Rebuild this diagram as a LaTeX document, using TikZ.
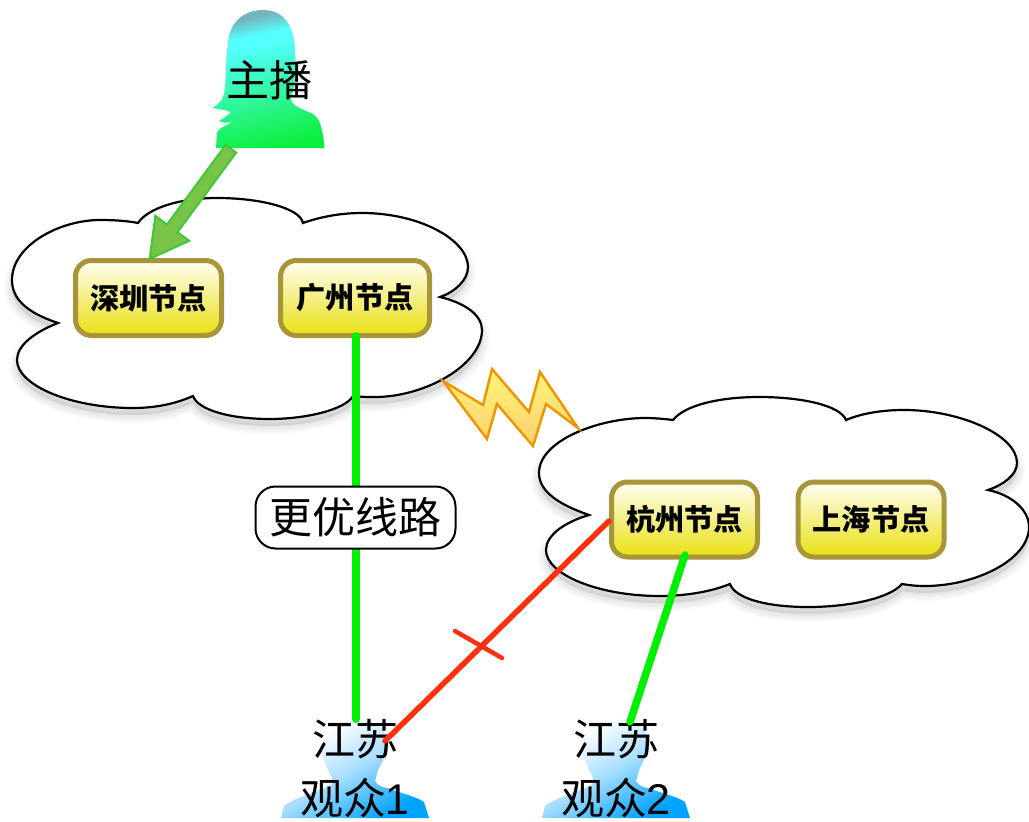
\documentclass[tikz,border=0pt]{standalone}
\usepackage{fontspec}
\newfontfamily\cjk{Noto Sans CJK SC}
\newfontfamily\lat{Liberation Sans}
\usetikzlibrary{arrows.meta,calc}
\definecolor{anchorbot}{HTML}{0CEE3C}
\definecolor{anchorcyan}{HTML}{55FFFF}
\definecolor{anchortop}{HTML}{74B4BC}
\definecolor{nodeborder}{HTML}{A8953A}
\definecolor{nodetop}{HTML}{FFFEF4}
\definecolor{nodebot}{HTML}{E9E010}
\definecolor{arrowfill}{HTML}{78C448}
\definecolor{arrowline}{HTML}{3CC838}
\definecolor{linegreen}{HTML}{00F000}
\definecolor{linered}{HTML}{FF3010}
\definecolor{boltline}{HTML}{F09400}
\definecolor{bolttop}{HTML}{FFF478}
\definecolor{boltbot}{HTML}{FFD070}
\definecolor{viewerblue}{HTML}{00A4FF}
\definecolor{viewermid}{HTML}{A8DEFF}
\pgfdeclareverticalshading{anchorgrad}{100bp}{color(0bp)=(anchorbot); color(24bp)=(anchorbot); color(64bp)=(anchorcyan); color(67bp)=(anchorcyan); color(74bp)=(anchortop); color(100bp)=(anchortop)}
\pgfdeclareverticalshading{viewergrad}{100bp}{color(0bp)=(viewerblue); color(26bp)=(viewerblue); color(50bp)=(viewermid); color(70bp)=(white); color(100bp)=(white)}
\newcommand{\cloudone}{(58,323) .. controls (25,312) and (12,298) .. (12,280)
 .. controls (12,245) and (60,220) .. (100,220) .. controls (115,220) and (128,221) .. (138,223)
 .. controls (148,208) and (180,198) .. (217,198) .. controls (260,198) and (300,208) .. (303,223)
 .. controls (320,217) and (340,213) .. (362,213) .. controls (420,213) and (468,240) .. (468,267)
 .. controls (468,280) and (455,292) .. (440,297) .. controls (465,303) and (482,315) .. (482,330)
 .. controls (482,365) and (425,397) .. (375,397) .. controls (368,397) and (362,397) .. (353,396)
 .. controls (345,410) and (305,419) .. (270,419) .. controls (230,419) and (198,410) .. (193,396)
 .. controls (175,404) and (155,408) .. (133,408) .. controls (70,408) and (17,385) .. (17,360)
 .. controls (17,345) and (35,332) .. (58,323) -- cycle}
\newcommand{\cloudtwo}{(589,515) .. controls (560,505) and (539,492) .. (539,473)
 .. controls (539,440) and (600,418) .. (645,418) .. controls (655,418) and (665,419) .. (673,420)
 .. controls (685,405) and (720,397) .. (759,397) .. controls (800,397) and (840,405) .. (846,420)
 .. controls (860,414) and (880,410) .. (904,410) .. controls (960,410) and (1017,435) .. (1017,463)
 .. controls (1017,475) and (1003,485) .. (988,490) .. controls (1012,495) and (1029,510) .. (1029,527)
 .. controls (1029,560) and (975,586) .. (925,586) .. controls (915,586) and (908,585) .. (902,584)
 .. controls (890,598) and (850,607) .. (808,607) .. controls (765,607) and (735,598) .. (730,584)
 .. controls (710,592) and (685,596) .. (659,596) .. controls (600,596) and (546,575) .. (546,550)
 .. controls (546,535) and (565,522) .. (589,515) -- cycle}
\newcommand{\viewerpath}{(281,818) -- (284,806) .. controls (290,800) and (315,792) .. (327,787)
 .. controls (332,785) and (333,782) .. (332,778) -- (328,770) -- (324,760) .. controls (316,745) and (316,719) .. (352,719)
 .. controls (392,719) and (390,745) .. (383,760) -- (378,770) -- (375,781) .. controls (378,786) and (382,787) .. (387,788)
 .. controls (400,793) and (415,796) .. (424,802) -- (429,818) -- cycle}
\tikzset{
 x=1pt,y=-1pt,
 cityphrase/.style={font=\cjk\bfseries\fontsize{29.2}{30}\selectfont},
 citybox/.style={draw=nodeborder,line width=5pt,rounded corners=16pt,minimum width=146pt,minimum height=75pt,inner sep=0pt,outer sep=0pt,top color=nodetop,bottom color=nodebot,cityphrase},
 bigtext/.style={font=\cjk\fontsize{43}{46}\selectfont,inner sep=0pt,text=black},
 cloudshape/.style={draw=black,line width=2.2pt,fill=white},
 cloudshadow/.style={draw=black,opacity=0.025,fill=black,yshift=-7pt},
 greenlink/.style={draw=linegreen,line width=7.8pt,line cap=round},
 redlink/.style={draw=linered,line width=5.5pt,line cap=round},
 viewer/.style={shading=viewergrad,shading angle=30},
 boltshape/.style={draw=boltline,line width=2.4pt,line join=miter,top color=bolttop,bottom color=boltbot},
}
\begin{document}
\begin{tikzpicture}
\useasboundingbox (0,0) rectangle (1029,822);
% shadows and clouds
\foreach \w in {16,12,8,4}{
 \path[cloudshadow,line width=\w pt] \cloudone;
 \path[cloudshadow,line width=\w pt] \cloudtwo;
}
\path[cloudshape] \cloudone;
\path[cloudshape] \cloudtwo;
% bolt
\path[boltshape] (443,381) -- (483,405) -- (492,369) -- (529,412) -- (540,372) -- (578,428) -- (546,404) -- (533,446) -- (497,404) -- (487,439) -- cycle;
% anchor silhouette
\path[shading=anchorgrad,shading angle=12] (216,148) -- (217,133) .. controls (218,128) and (226,126) .. (232,122)
 .. controls (226,123) and (222,123) .. (219,121) .. controls (224,118) and (228,115) .. (231,112)
 .. controls (226,110) and (218,109) .. (212,108) .. controls (220,104) and (224,98) .. (225,88)
 .. controls (226,75) and (226,55) .. (228,42) .. controls (230,20) and (246,10) .. (263,10)
 .. controls (284,10) and (294,26) .. (295,50) .. controls (296,65) and (296,85) .. (291,98)
 .. controls (291,106) and (300,108) .. (313,114) .. controls (320,118) and (323,130) .. (324.5,148) -- cycle;
% viewers
\path[viewer] \viewerpath;
\begin{scope}[xshift=261pt]
\path[viewer] \viewerpath;
\end{scope}
% city nodes
\node[citybox] (sz) at (148.5,298) {深圳节点};
\node[citybox,minimum width=149pt] (gz) at (355,298) {广州节点};
\node[citybox] (hz) at (684.5,519.5) {杭州节点};
\node[citybox] (sh) at (871,519.5) {上海节点};
% texts
\node[bigtext] (zb) at (269.5,80) {主播};
\node[bigtext] (v1a) at (355,739.5) {江苏};
\node[bigtext] (v1b) at (354.5,798.5) {观众\kern-1pt{\lat 1}};
\node[bigtext] (v2a) at (616,739.5) {江苏};
\node[bigtext] (v2b) at (615.5,798.5) {观众\kern-1pt{\lat 2}};
\coordinate (ztail) at (231.5,148);
\coordinate (v1top) at (356,719);
\coordinate (v1red) at (385,741);
\coordinate (v2top) at (630,722);
\coordinate (hzred) at (609,521);
\coordinate (hzgreen) at (685,555);
\coordinate (gzout) at (356,336);
\coordinate (tickA) at (455,631);
\coordinate (tickB) at (502,658);
% connectors
\draw[draw=arrowline,line width=15pt,-{Triangle[length=41pt,width=45pt,line width=2pt,fill=arrowfill]}] (ztail) -- (sz.north);
\draw[draw=arrowfill,line width=11pt] ($(ztail)!2pt!(sz.north)$) -- ($(sz.north)!37pt!(ztail)$);
\draw[greenlink] (gzout) -- (v1top);
\draw[greenlink,line width=7.5pt] (hzgreen) -- (v2top);
\draw[redlink] (hzred) -- (v1red);
\draw[draw=linered,line width=4.5pt,line cap=round] (tickA) -- (tickB);
% label
\node[bigtext,draw=black,line width=2pt,fill=white,rounded corners=20pt,minimum width=200pt,minimum height=62pt] (lb) at (355.5,517.5) {更优线路};
\end{tikzpicture}
\end{document}
